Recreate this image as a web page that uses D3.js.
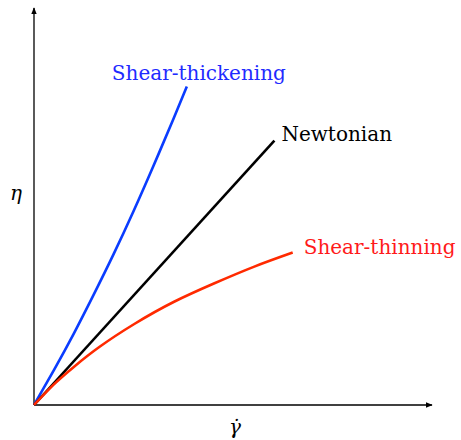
<!DOCTYPE html>
<html>
<head>
<meta charset="utf-8">
<script src="https://cdn.jsdelivr.net/npm/d3@7"></script>
<style>
  html, body { margin: 0; padding: 0; background: #fff; }
</style>
</head>
<body>
<div id="chart"></div>
<script>
// values, in axis units (both axes run 0..5)
var thickX = [0, 0.25, 0.50, 0.75, 1.00, 1.25, 1.50, 1.75, 1.92];
var thickY = [0, 0.44, 0.90, 1.39, 1.90, 2.44, 3.01, 3.60, 4.01];
var newtX  = [0, 3.02];
var newtY  = [0, 3.33];
var thinX  = [0, 0.25, 0.50, 0.82, 1.26, 1.76, 2.26, 2.76, 3.25];
var thinY  = [0, 0.26, 0.48, 0.73, 1.02, 1.30, 1.53, 1.74, 1.92];
var seriesNames = ["Shear-thickening", "Newtonian", "Shear-thinning"];

(function () {
  var W = 461, H = 440;
  var FONT = "'DejaVu Serif', 'Liberation Serif', serif";
  var x = d3.scaleLinear().domain([0, 5]).range([34, 432]);
  var y = d3.scaleLinear().domain([0, 5]).range([405, 8]);

  var svg = d3.select("#chart").append("svg")
    .attr("width", W).attr("height", H);

  var defs = svg.append("defs");
  defs.append("marker").attr("id", "arr")
    .attr("viewBox", "0 0 10 10").attr("refX", 9).attr("refY", 5)
    .attr("markerWidth", 7).attr("markerHeight", 7)
    .attr("markerUnits", "userSpaceOnUse")
    .attr("orient", "auto")
    .append("path").attr("d", "M0,1 L10,5 L0,9 Z").attr("fill", "#000");

  // axes with arrow heads
  svg.append("line")
    .attr("x1", x(0)).attr("y1", y(0)).attr("x2", x(0)).attr("y2", y(5))
    .attr("stroke", "#000").attr("stroke-width", 1.3)
    .attr("marker-end", "url(#arr)");
  svg.append("line")
    .attr("x1", x(0)).attr("y1", y(0)).attr("x2", x(5)).attr("y2", y(0))
    .attr("stroke", "#000").attr("stroke-width", 1.3)
    .attr("marker-end", "url(#arr)");

  function pts(xs, ys) {
    return xs.map(function (v, i) { return [v, ys[i]]; });
  }
  var series = [
    { name: seriesNames[0], data: pts(thickX, thickY), color: "#0a3cff",
      text: "#1f2bff", dx: -75, dy: -7 },
    { name: seriesNames[1], data: pts(newtX, newtY), color: "#000",
      text: "#000", dx: 7, dy: 0 },
    { name: seriesNames[2], data: pts(thinX, thinY), color: "#ff2a00",
      text: "#ff1a1a", dx: 11, dy: 1 }
  ];

  var line = d3.line()
    .x(function (d) { return x(d[0]); })
    .y(function (d) { return y(d[1]); })
    .curve(d3.curveNatural);

  series.forEach(function (s) {
    svg.append("path").datum(s.data)
      .attr("d", line)
      .attr("fill", "none")
      .attr("stroke", s.color)
      .attr("stroke-width", 2.6);
    var last = s.data[s.data.length - 1];
    svg.append("text")
      .attr("x", x(last[0]) + s.dx)
      .attr("y", y(last[1]) + s.dy)
      .attr("font-family", FONT)
      .attr("fill", s.text)
      .attr("font-size", "20px")
      .text(s.name);
  });

  // axis symbols
  svg.append("text")
    .attr("x", 16).attr("y", 200)
    .attr("text-anchor", "middle")
    .attr("font-family", FONT)
    .attr("font-style", "italic").attr("font-size", "20px")
    .text("η");
  svg.append("text")
    .attr("x", 235).attr("y", 434)
    .attr("text-anchor", "middle")
    .attr("font-family", FONT)
    .attr("font-style", "italic").attr("font-size", "20px")
    .text("\u03B3\u0307");
})();
</script>
</body>
</html>
